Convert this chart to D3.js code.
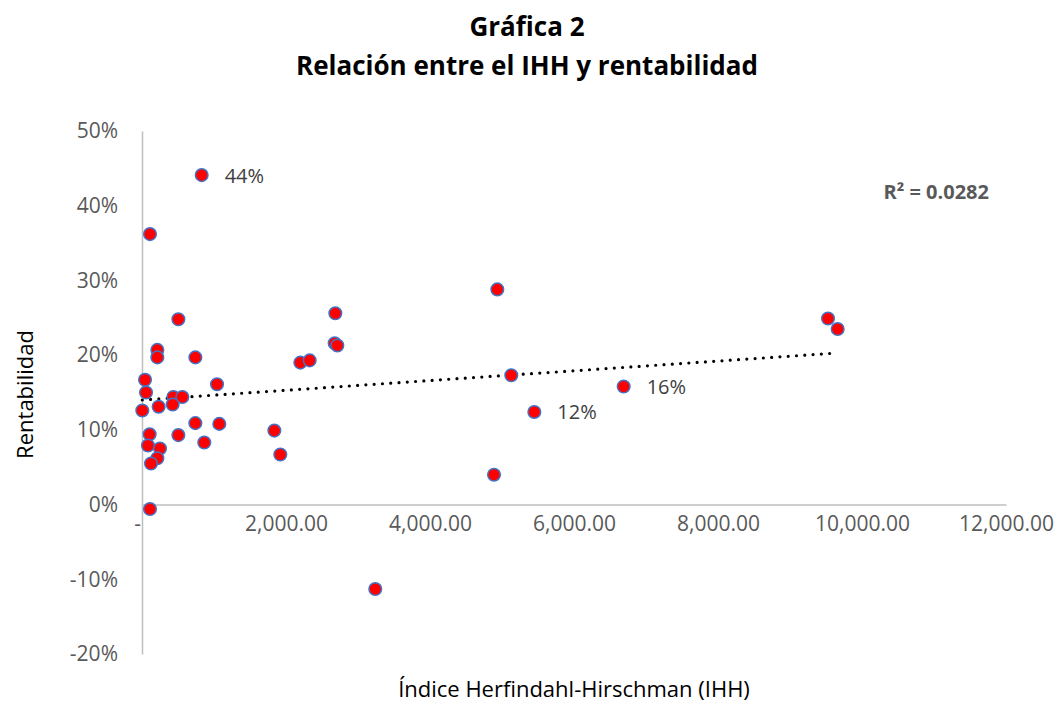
<!DOCTYPE html>
<html>
<head>
<meta charset="utf-8">
<script src="https://cdn.jsdelivr.net/npm/d3@7"></script>
<style>
  body { margin: 0; background: #fff; font-family: "Open Sans", sans-serif; }
</style>
</head>
<body>
<div id="chart"></div>
<script>
// IHH (x) and rentabilidad (y, as fraction)
const ihh = [829, 111, 505, 213, 213, 741, 42, 56, 4, 1042, 435, 560, 426, 231, 741, 1074,
  106, 505, 865, 83, 250, 213, 125, 1838, 1921, 2199, 2329, 2685, 2676, 2713, 111,
  4935, 4889, 5129, 5449, 3240, 6690, 9528, 9662];
const rent = [0.441, 0.362, 0.248, 0.207, 0.197, 0.197, 0.167, 0.150, 0.126, 0.161, 0.144, 0.144,
  0.134, 0.131, 0.109, 0.108, 0.094, 0.093, 0.083, 0.079, 0.075, 0.062, 0.055, 0.099, 0.067,
  0.190, 0.193, 0.256, 0.216, 0.213, -0.006, 0.288, 0.040, 0.173, 0.124, -0.113, 0.158,
  0.249, 0.235];
// points that carry a data label
const labelled = [0, 34, 36];
const xTicks = [0, 2000, 4000, 6000, 8000, 10000, 12000];
const yTicks = [-0.2, -0.1, 0, 0.1, 0.2, 0.3, 0.4, 0.5];

const width = 1055, height = 703;
const margin = {top: 131, bottom: 49, left: 142, right: 49};

const svg = d3.select("#chart").append("svg")
  .attr("width", width)
  .attr("height", height);

const x = d3.scaleLinear().domain([0, 12000]).range([margin.left, width - margin.right]);
const y = d3.scaleLinear().domain([-0.2, 0.5]).range([height - margin.bottom, margin.top]);

const pct = d => Math.round(d * 100) + "%";

// title
svg.append("text")
  .attr("x", 527).attr("y", 36)
  .attr("text-anchor", "middle")
  .style("font-size", "26px").style("font-weight", "bold")
  .text("Gráfica 2");
svg.append("text")
  .attr("x", 527).attr("y", 75)
  .attr("text-anchor", "middle")
  .style("font-size", "26px").style("font-weight", "bold")
  .text("Relación entre el IHH y rentabilidad");

// y axis
const yAxis = d3.axisLeft(y).tickValues(yTicks).tickSize(0).tickPadding(24)
  .tickFormat(pct);
const gy = svg.append("g").attr("transform", `translate(${margin.left},0)`).call(yAxis);
gy.select(".domain").attr("stroke", "#bfbfbf").attr("stroke-width", 1.5);
gy.selectAll("text").style("font-size", "21px").style("fill", "#595959")
  .style("font-family", "Open Sans");

// x axis at y = 0
const xAxis = d3.axisBottom(x).tickValues(xTicks).tickSize(0).tickPadding(12)
  .tickFormat(d => d === 0 ? "-" : d3.format(",.2f")(d));
const gx = svg.append("g").attr("transform", `translate(0,${y(0)})`).call(xAxis);
gx.select(".domain").attr("stroke", "#bfbfbf").attr("stroke-width", 1.5);
gx.selectAll("text").style("font-size", "21px").style("fill", "#595959")
  .style("font-family", "Open Sans");
gx.selectAll(".tick").filter(d => d === 0).select("text").attr("dx", -5);

// axis titles
svg.append("text")
  .attr("transform", `translate(33,${(y(0.5) + y(-0.2)) / 2 + 2}) rotate(-90)`)
  .attr("text-anchor", "middle")
  .style("font-size", "22px").style("fill", "#000")
  .text("Rentabilidad");
svg.append("text")
  .attr("x", 574).attr("y", 697)
  .attr("text-anchor", "middle")
  .style("font-size", "22px").style("fill", "#000")
  .text("Índice Herfindahl-Hirschman (IHH)");

// linear trendline (least squares)
const mx = d3.mean(ihh), my = d3.mean(rent);
const sxy = d3.sum(ihh, (v, i) => (v - mx) * (rent[i] - my));
const sxx = d3.sum(ihh, v => (v - mx) ** 2);
const slope = sxy / sxx, intercept = my - slope * mx;
const xr = d3.extent(ihh);
svg.append("line")
  .attr("x1", x(xr[0])).attr("y1", y(intercept + slope * xr[0]))
  .attr("x2", x(xr[1])).attr("y2", y(intercept + slope * xr[1]))
  .attr("stroke", "#000")
  .attr("stroke-width", 3.2)
  .attr("stroke-linecap", "round")
  .attr("stroke-dasharray", "0 8.3");

// points
svg.selectAll("circle.pt")
  .data(ihh.map((v, i) => ({x: v, y: rent[i]})))
  .enter().append("circle")
  .attr("class", "pt")
  .attr("cx", d => x(d.x))
  .attr("cy", d => y(d.y))
  .attr("r", 6.3)
  .attr("fill", "#ff0000")
  .attr("stroke", "#4472c4")
  .attr("stroke-width", 1.5);

// data labels
svg.selectAll("text.lbl")
  .data(labelled)
  .enter().append("text")
  .attr("class", "lbl")
  .attr("x", i => x(ihh[i]) + 23)
  .attr("y", i => y(rent[i]) + 7.5)
  .style("font-size", "20px").style("fill", "#404040")
  .text(i => pct(rent[i]));

// R squared
svg.append("text")
  .attr("x", 989).attr("y", 199)
  .attr("text-anchor", "end")
  .style("font-size", "20px").style("font-weight", "bold").style("fill", "#595959")
  .text("R² = 0.0282");
</script>
</body>
</html>
